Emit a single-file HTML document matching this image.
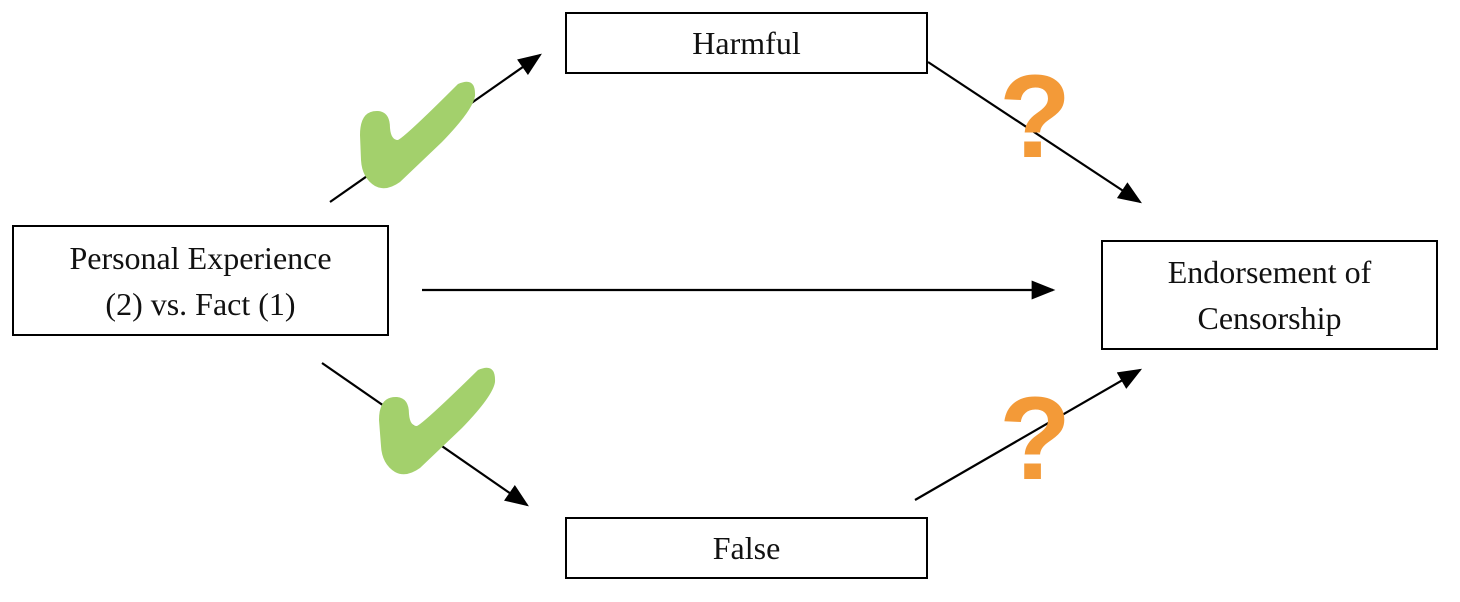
<!DOCTYPE html>
<html><head><style>
html,body{margin:0;padding:0;background:#fff;}
body{width:1460px;height:602px;position:relative;overflow:hidden;font-family:"Liberation Serif",serif;}
.b{position:absolute;border:2px solid #000;box-sizing:border-box;display:flex;align-items:center;justify-content:center;text-align:center;font-size:32px;line-height:46px;color:#111;background:#fff;}
.q{position:absolute;font-family:"Liberation Sans",sans-serif;font-weight:bold;font-size:118px;color:#f39a38;line-height:1;}
</style></head><body>
<svg width="1460" height="602" style="position:absolute;left:0;top:0">
<defs>
<marker id="m" viewBox="0 0 10 8" refX="9" refY="4" markerWidth="24" markerHeight="19" orient="auto" markerUnits="userSpaceOnUse"><path d="M0,0 L10,4 L0,8 z" fill="#000"/></marker></defs>
<g stroke="#000" stroke-width="2.2" fill="none" marker-end="url(#m)">
<line x1="330" y1="202" x2="540" y2="55"/>
<line x1="422" y1="290" x2="1053" y2="290"/>
<line x1="322" y1="363" x2="527" y2="505"/>
<line x1="928" y1="62" x2="1140" y2="202"/>
<line x1="915" y1="500" x2="1140" y2="370"/>
</g>
<g fill="#a3d06c">
<path d="M360,135 Q360,110 378,111 Q390,112 390,128 Q391,140 398,140 Q406,136 458,84 Q476,76 475,96 Q473,110 442,142 L400,182 Q386,192 375,186 Q362,178 361,160 Z"/>
<path d="M379,420 Q379,396 397,397 Q409,398 409,414 Q410,426 417,426 Q425,422 478,370 Q496,362 495,382 Q493,396 462,428 L420,468 Q406,478 395,472 Q382,464 381,446 Z"/>
</g>
</svg>
<div class="q" style="left:999px;top:58px">?</div>
<div class="q" style="left:999px;top:380px">?</div>
<div class="b" style="left:565px;top:12px;width:363px;height:62px">Harmful</div>
<div class="b" style="left:12px;top:225px;width:377px;height:111px">Personal Experience<br>(2) vs. Fact (1)</div>
<div class="b" style="left:1101px;top:240px;width:337px;height:110px">Endorsement of<br>Censorship</div>
<div class="b" style="left:565px;top:517px;width:363px;height:62px">False</div>
</body></html>
